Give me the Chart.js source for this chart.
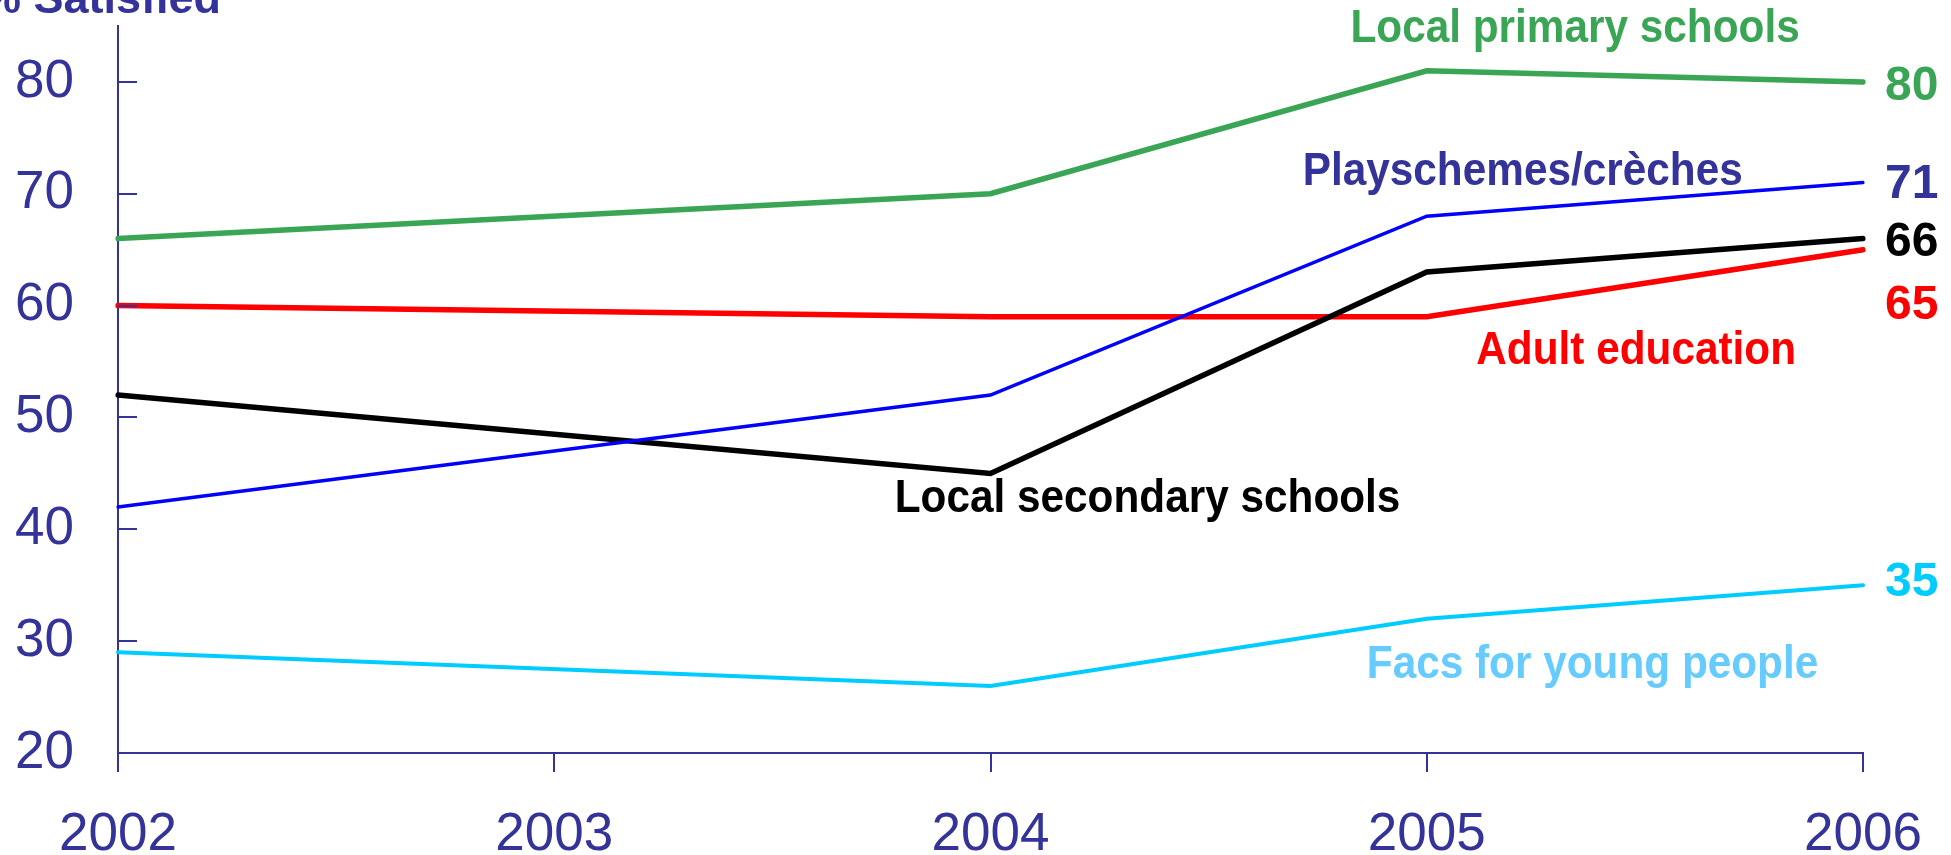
<!DOCTYPE html>
<html>
<head>
<meta charset="utf-8">
<title>% Satisfied</title>
<script src="https://cdn.jsdelivr.net/npm/chart.js@4.4.1/dist/chart.umd.min.js"></script>
<style>
  html, body { margin: 0; padding: 0; background: #fff; overflow: hidden; }
</style>
</head>
<body>
<canvas id="myChart" width="1951" height="855"></canvas>
<script>
// chart data //
const years = ['2002', '2003', '2004', '2005', '2006'];
const primarySchools = [66, null, 70, 81, 80];
const playschemes = [42, null, 52, 68, 71];
const secondarySchools = [52, null, 45, 63, 66];
const adultEducation = [60, null, 59, 59, 65];
const youngPeople = [29, null, 26, 32, 35];
const yTicks = [20, 30, 40, 50, 60, 70, 80];

const seriesNames = ['Local primary schools', 'Playschemes/crèches', 'Local secondary schools', 'Adult education', 'Facs for young people'];

// where the text labels sit (in axis units)
const namePos = [[3.34, 84.7], [3.22, 71.9], [2.36, 42.7], [3.48, 55.9], [3.38, 27.8]];
const valuePos = [79.6, 70.8, 65.6, 60.0, 35.2];

const axisColor = '#333399';
const font = '"Liberation Sans", Arial, sans-serif';

const series = [
    { data: primarySchools, line: '#3aa655', name: '#3aa655', value: '#3aa655', width: 5.5 },
    { data: playschemes, line: '#0000ff', name: '#333399', value: '#333399', width: 3.5 },
    { data: secondarySchools, line: '#000000', name: '#000000', value: '#000000', width: 5.5 },
    { data: adultEducation, line: '#ff0000', name: '#ff0000', value: '#ff0000', width: 5.5 },
    { data: youngPeople, line: '#00ccff', name: '#66ccff', value: '#00ccff', width: 4 }
];

// text squeezed a little in width, the original labels are narrow
function squeezedText(ctx, text, px, py, sx) {
    ctx.save();
    ctx.translate(px, py);
    ctx.scale(sx, 1);
    ctx.fillText(text, 0, 0);
    ctx.restore();
}

// Plugin for the inner ticks, title and text labels
const labelPlugin = {
    id: 'labelPlugin',
    afterDraw(chart) {
        const { ctx, chartArea, scales } = chart;
        const x = scales.x, y = scales.y;
        ctx.save();

        // y ticks point inside the plot
        ctx.strokeStyle = axisColor;
        ctx.lineWidth = 2;
        yTicks.forEach(v => {
            const py = Math.round(y.getPixelForValue(v));
            ctx.beginPath();
            ctx.moveTo(chartArea.left, py);
            ctx.lineTo(chartArea.left + 19, py);
            ctx.stroke();
        });

        // axis title, cut off at the top like the original
        ctx.font = 'bold 45px ' + font;
        ctx.fillStyle = axisColor;
        ctx.textAlign = 'left';
        ctx.textBaseline = 'alphabetic';
        ctx.fillText('% Satisfied', -19, 13);

        // series names
        ctx.font = 'bold 46px ' + font;
        ctx.textAlign = 'center';
        ctx.textBaseline = 'middle';
        series.forEach((s, i) => {
            ctx.fillStyle = s.name;
            squeezedText(ctx, seriesNames[i], x.getPixelForValue(namePos[i][0]), y.getPixelForValue(namePos[i][1]), 0.92);
        });

        // last values at the right
        ctx.font = 'bold 48px ' + font;
        ctx.textAlign = 'left';
        series.forEach((s, i) => {
            ctx.fillStyle = s.value;
            ctx.fillText(String(s.data[s.data.length - 1]), chartArea.right + 22, y.getPixelForValue(valuePos[i]));
        });
        ctx.restore();
    }
};

const ctx = document.getElementById('myChart').getContext('2d');
const myChart = new Chart(ctx, {
    type: 'line',
    data: {
        labels: years,
        datasets: series.map((s, i) => ({
            label: seriesNames[i],
            data: s.data,
            borderColor: s.line,
            borderWidth: s.width,
            borderCapStyle: 'round',
            borderJoinStyle: 'miter',
            pointRadius: 0,
            tension: 0,
            spanGaps: true,
            fill: false
        }))
    },
    options: {
        responsive: false,
        devicePixelRatio: 1,
        animation: false,
        events: [],
        layout: {
            padding: { top: 26, right: 88, left: 0, bottom: 0 }
        },
        scales: {
            x: {
                type: 'category',
                offset: false,
                grid: {
                    drawOnChartArea: false,
                    drawTicks: true,
                    tickLength: 19,
                    color: axisColor,
                    lineWidth: 2
                },
                border: { display: true, color: axisColor, width: 2 },
                ticks: {
                    color: axisColor,
                    font: { family: font, size: 53 },
                    padding: 32,
                    maxRotation: 0,
                    autoSkip: false
                },
                afterFit: scale => {
                    scale.height = 102;
                    scale.paddingLeft = 0;
                    scale.paddingRight = 0;
                }
            },
            y: {
                min: 20,
                max: 85,
                grid: { drawOnChartArea: false, drawTicks: false },
                border: { display: true, color: axisColor, width: 2 },
                ticks: {
                    color: axisColor,
                    font: { family: font, size: 53 },
                    padding: 44
                },
                afterBuildTicks: scale => { scale.ticks = yTicks.map(v => ({ value: v })); },
                afterFit: scale => {
                    scale.width = 118;
                    scale.paddingTop = 0;
                    scale.paddingBottom = 0;
                }
            }
        },
        plugins: {
            legend: { display: false },
            tooltip: { enabled: false }
        }
    },
    plugins: [labelPlugin]
});
</script>
</body>
</html>
